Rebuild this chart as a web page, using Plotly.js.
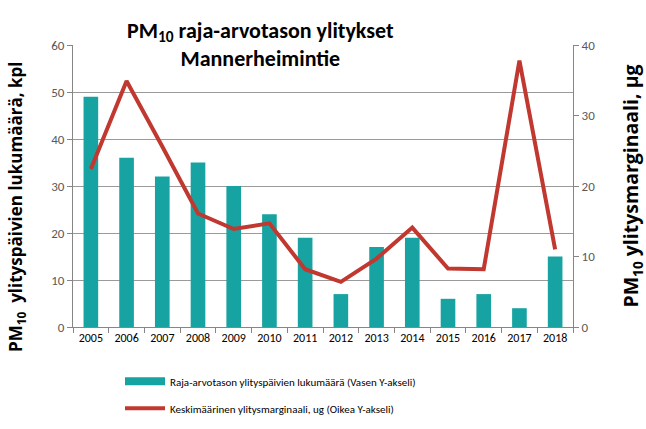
<!DOCTYPE html>
<html>
<head>
<meta charset="utf-8">
<script src="https://cdn.plot.ly/plotly-3.0.1.min.js"></script>
<style>html,body{margin:0;padding:0;background:#fff;}#chart{width:646px;height:429px;}</style>
</head>
<body>
<div id="chart"></div>
<script>
const years = ["2005","2006","2007","2008","2009","2010","2011","2012","2013","2014","2015","2016","2017","2018"];
const exceedDays = [49, 36, 32, 35, 30, 24, 19, 7, 17, 19, 6, 7, 4, 15];
const avgMargin = [22.4, 34.9, 25.6, 16.1, 13.9, 14.7, 8.2, 6.4, 9.7, 14.1, 8.3, 8.2, 37.8, 11.0];
const barName = "Raja-arvotason ylityspäivien lukumäärä (Vasen Y-akseli)";
const lineName = "Keskimäärinen ylitysmarginaali, ug (Oikea Y-akseli)";
const leftTitle = "<b>PM<sub>10</sub>  ylityspäivien lukumäärä, kpl</b>";
const rightTitle = "<b>PM<sub>10</sub> ylitysmarginaali, µg</b>";

const font = "Carlito, Lato, 'Open Sans', sans-serif";
const teal = "#17A3A1";
const traces = [
  {type: "bar", x: years, y: exceedDays, name: barName, showlegend: false, marker: {color: teal}, width: 0.41, yaxis: "y", hoverinfo: "skip"},
  // legend-only entry so the bar swatch is a wide rectangle as in the reference
  {type: "scatter", mode: "lines", x: [null], y: [null], name: barName, legendgroup: "a", line: {color: teal, width: 8}, yaxis: "y", hoverinfo: "skip"},
  {type: "scatter", mode: "lines", x: years, y: avgMargin, name: lineName, legendgroup: "b", line: {color: "#C0382F", width: 4}, yaxis: "y2", hoverinfo: "skip"}
];
const layout = {
  width: 646, height: 429,
  margin: {l: 73, r: 73, t: 45, b: 102},
  paper_bgcolor: "#fff", plot_bgcolor: "#fff",
  font: {family: font, color: "#595959", size: 13},
  title: {text: "<b>PM<sub>10</sub> raja-arvotason ylitykset<br>Mannerheimintie</b>", x: 0.403, xanchor: "center", y: 0.912, yanchor: "top", font: {family: font, size: 22, color: "#000"}},
  showlegend: true,
  legend: {orientation: "v", x: 0.094, xanchor: "left", yref: "container", y: 0.145, yanchor: "top", font: {family: font, size: 11, color: "#000"}, tracegroupgap: 8, itemwidth: 40},
  xaxis: {type: "category", automargin: false, showline: true, linecolor: "#868686", ticks: "outside", tickson: "boundaries", ticklen: 5, tickcolor: "#868686", showgrid: false, tickangle: 0, tickfont: {size: 12, color: "#000"}},
  yaxis: {range: [0, 60], dtick: 10, automargin: false, showline: true, linecolor: "#868686", ticks: "outside", ticklen: 5, tickcolor: "#868686", showgrid: true, gridcolor: "#9a9a9a", gridwidth: 1, zeroline: false},
  yaxis2: {range: [0, 40], dtick: 10, automargin: false, overlaying: "y", side: "right", showline: true, linecolor: "#868686", ticks: "outside", ticklen: 5, tickcolor: "#868686", showgrid: false, zeroline: false},
  annotations: [
    {text: leftTitle, textangle: -90, xref: "paper", yref: "paper", x: -0.114, y: 0.4255, xanchor: "center", yanchor: "middle", showarrow: false, font: {family: "'Open Sans', sans-serif", size: 17, color: "#000"}},
    {text: rightTitle, textangle: -90, xref: "paper", yref: "paper", x: 1.118, y: 0.498, xanchor: "center", yanchor: "middle", showarrow: false, font: {family: "'Open Sans', sans-serif", size: 19.5, color: "#000"}}
  ],
  bargap: 0.59
};
Plotly.newPlot("chart", traces, layout, {staticPlot: true, displayModeBar: false});
</script>
</body>
</html>
